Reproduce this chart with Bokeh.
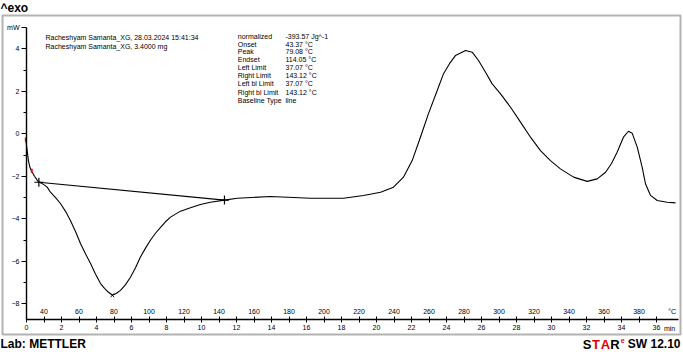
from bokeh.plotting import figure
from bokeh.models import LinearAxis, Range1d, FixedTicker, Label, BoxAnnotation
from bokeh.embed import file_html
from bokeh.resources import INLINE

# ---------------- data ----------------
time_min = [-0.05, 0.00, 0.06, 0.11, 0.20, 0.30, 0.46, 0.60, 0.71, 0.97, 1.18, 1.37,
            1.66, 1.94, 2.23, 2.51, 2.80, 3.09, 3.37, 3.66, 3.94, 4.23, 4.46, 4.63,
            4.91, 5.14, 5.37, 5.66, 5.94, 6.23, 6.51, 6.80, 7.09, 7.37, 7.66, 7.94,
            8.23, 8.80, 9.37, 9.94, 10.51, 11.31, 12.04, 13.94, 16.23, 18.11, 19.26,
            20.23, 20.97, 21.54, 22.04, 22.51, 22.97, 23.47, 23.83, 24.17, 24.51,
            25.09, 25.47, 25.83, 26.23, 26.61, 27.09, 27.66, 28.23, 28.80, 29.37,
            29.94, 30.51, 31.26, 32.04, 32.61, 33.09, 33.43, 33.75, 34.11, 34.40,
            34.61, 34.90, 35.18, 35.37, 35.66, 36.04, 36.61, 37.09]
heat_flow_mw = [-0.20, -0.55, -0.93, -1.26, -1.59, -1.77, -2.00, -2.17, -2.27, -2.38,
                -2.51, -2.75, -3.00, -3.28, -3.65, -4.08, -4.60, -5.17, -5.65, -6.10,
                -6.60, -7.05, -7.27, -7.42, -7.60, -7.50, -7.37, -7.10, -6.75, -6.30,
                -5.80, -5.38, -5.00, -4.68, -4.40, -4.14, -3.92, -3.64, -3.48, -3.33,
                -3.22, -3.12, -3.03, -2.95, -3.03, -3.03, -2.90, -2.75, -2.51, -2.04,
                -1.26, -0.16, 0.95, 2.04, 2.83, 3.30, 3.68, 3.92, 3.84, 3.45, 2.90,
                2.35, 1.88, 1.25, 0.55, -0.16, -0.79, -1.26, -1.65, -2.04, -2.24,
                -2.12, -1.81, -1.40, -0.87, -0.16, 0.12, 0.03, -0.63, -1.57, -2.35,
                -2.90, -3.14, -3.22, -3.25]

start_temp_c = 30.0
heating_rate = 10.0   # K/min
limit_temp_c = [37.07, 143.12]
baseline_mw = [-2.28, -3.12]
peak_temp_c = [79.08]
peak_mw = [-7.60]
red_mark_time = [-0.04, 0.30]
red_mark_mw = [-0.27, -1.74]

y_major = [-8, -6, -4, -2, 0, 2, 4]
y_minor = [-7, -5, -3, -1, 1, 3]
y_unit = "mW"
time_ticks = list(range(0, 37))
time_label_ticks = list(range(0, 37, 2))
time_unit = "min"
temp_label_ticks = list(range(40, 381, 20))
temp_unit = "°C"

header_lines = ["Racheshyam Samanta_XG, 28.03.2024 15:41:34",
                "Racheshyam Samanta_XG, 3.4000 mg"]
info_keys = ["normalized", "Onset", "Peak", "Endset", "Left Limit", "Right Limit",
             "Left bl Limit", "Right bl Limit", "Baseline Type"]
info_vals = ["-393.57 Jg^-1", "43.37 °C", "79.08 °C", "114.05 °C", "37.07 °C",
             "143.12 °C", "37.07 °C", "143.12 °C", "line"]


def to_time(temp):
    return [(t - start_temp_c) / heating_rate for t in temp]


# ---------------- layout geometry ----------------
W, H = 683, 352
X0PX, Y0PX = 26.0, 133.3                # pixel of t=0 and 0 mW
PX_PER_MIN, PX_PER_MW = 17.5, 21.25


def dx(px):
    return (px - X0PX) / PX_PER_MIN


def dy(py):
    return (Y0PX - py) / PX_PER_MW


x_lo, x_hi = dx(0), dx(W)
y_lo, y_hi = dy(H), dy(0)
axis_y = dy(319)

p = figure(width=W, height=H, x_axis_type=None, y_axis_type=None,
           x_range=Range1d(x_lo, x_hi), y_range=Range1d(y_lo, y_hi),
           output_backend="svg", toolbar_location=None)
p.min_border = 0
p.outline_line_color = None
p.background_fill_color = "white"
p.border_fill_color = "white"
p.extra_x_ranges = {"temp": Range1d(start_temp_c + heating_rate * x_lo,
                                    start_temp_c + heating_rate * x_hi)}

# outer box
p.add_layout(BoxAnnotation(left=dx(2), right=dx(680), top=dy(15), bottom=dy(334),
                           fill_color=None, line_color="black", line_width=2))

FONT = "Liberation Sans"
TICK_FS = "7px"
SMALL_FS = "7px"

# y axis
yax = LinearAxis(fixed_location=0, bounds=(axis_y, 5.0),
                 ticker=FixedTicker(ticks=y_major + [5], minor_ticks=y_minor),
                 major_label_overrides={5: y_unit})
yax.axis_line_width = 1.4
yax.major_tick_in = 0
yax.major_tick_out = 5
yax.minor_tick_in = 0
yax.minor_tick_out = 3
yax.major_label_standoff = 2
yax.major_label_text_font = FONT
yax.major_label_text_font_size = TICK_FS
yax.major_label_text_color = "black"
p.add_layout(yax, "left")

# time axis line + ticks
xline = LinearAxis(fixed_location=axis_y, bounds=(0, 37.25),
                   ticker=FixedTicker(ticks=time_ticks, minor_ticks=[]))
xline.axis_line_width = 1.4
xline.major_tick_in = 3
xline.major_tick_out = 3
xline.major_label_text_color = None
p.add_layout(xline, "below")


def label_axis(axis, standoff):
    axis.axis_line_color = None
    axis.major_tick_line_color = None
    axis.minor_tick_line_color = None
    axis.major_tick_in = 0
    axis.major_tick_out = 0
    axis.major_label_standoff = standoff
    axis.major_label_text_font = FONT
    axis.major_label_text_font_size = TICK_FS
    axis.major_label_text_color = "black"


xlab = LinearAxis(fixed_location=axis_y,
                  ticker=FixedTicker(ticks=time_label_ticks, minor_ticks=[]))
label_axis(xlab, 5)
p.add_layout(xlab, "below")

xunit = LinearAxis(fixed_location=axis_y,
                   ticker=FixedTicker(ticks=[36.75], minor_ticks=[]),
                   major_label_overrides={36.75: time_unit})
label_axis(xunit, 5)
p.add_layout(xunit, "below")

tlab = LinearAxis(fixed_location=axis_y, x_range_name="temp",
                  ticker=FixedTicker(ticks=temp_label_ticks + [399], minor_ticks=[]),
                  major_label_overrides={399: temp_unit})
label_axis(tlab, 5)
p.add_layout(tlab, "above")

# ---------------- curve ----------------
p.line(time_min, heat_flow_mw, line_color="black", line_width=1.1)
p.line(to_time(limit_temp_c), baseline_mw, line_color="black", line_width=1.2)
p.scatter(to_time(limit_temp_c), baseline_mw, marker="cross", size=9,
          line_color="black", line_width=1.2)
p.scatter(to_time(peak_temp_c), peak_mw, marker="x", size=5,
          line_color="black", line_width=1)
p.rect(red_mark_time, red_mark_mw, width=2, height=4, width_units="screen",
       height_units="screen", fill_color="red", line_color=None)


# ---------------- texts ----------------
def add_text(px, py, text, size=SMALL_FS, color="black", bold=False,
             align="left", baseline="middle"):
    p.add_layout(Label(x=dx(px), y=dy(py), text=text, text_font=FONT,
                       text_font_size=size, text_color=color,
                       text_font_style="bold" if bold else "normal",
                       text_align=align, text_baseline=baseline))


header_y = [37.2, 45.5]
for yy, line in zip(header_y, header_lines):
    add_text(45, yy, line)

info_y = [35.5, 43.5, 51.3, 59.0, 67.0, 74.7, 82.8, 91.8, 100.3]
for yy, k, v in zip(info_y, info_keys, info_vals):
    add_text(237.3, yy, k)
    add_text(285, yy, v)

add_text(0, 7.5, "^exo", size="12px", bold=True)
add_text(0, 343.5, "Lab: METTLER", size="12px", bold=True)
star_parts = [(582.3, "S", "black"), (591.5, "T", "#e00000"), (600.2, "A", "#e00000"),
              (609.8, "R", "black")]
for px, ch, col in star_parts:
    add_text(px, 343.5, ch, size="13px", bold=True, color=col)
add_text(620.3, 340, "e", size="7px", bold=True, color="#e00000")
add_text(680, 343.5, "SW 12.10", size="12px", bold=True, align="right")

open("out.html", "w").write(file_html(p, INLINE))
